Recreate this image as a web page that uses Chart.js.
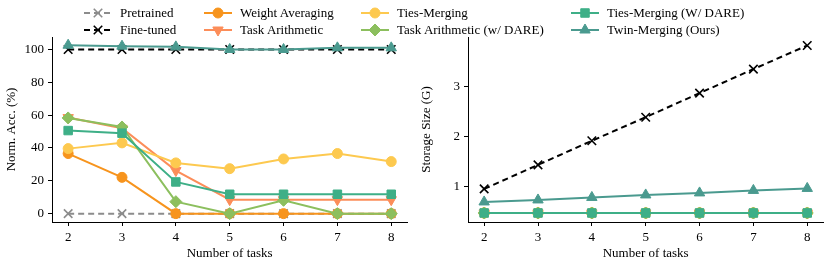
<!DOCTYPE html>
<html><head><meta charset="utf-8">
<script src="https://cdn.jsdelivr.net/npm/chart.js@4.4.1/dist/chart.umd.min.js"></script>
<style>
body{margin:0;width:831px;height:264px;background:#fff;position:relative;overflow:hidden;font-family:"Liberation Serif","Times New Roman",serif;}
canvas.c{position:absolute;top:0}
.li{position:absolute;font-size:13px;line-height:15px;white-space:nowrap;color:#000}
.lh{position:absolute}
</style></head><body>
<canvas id="left" class="c" width="415" height="264" style="left:0;width:415px;height:264px"></canvas>
<canvas id="right" class="c" width="416" height="264" style="left:415px;width:416px;height:264px"></canvas>
<div id="legend"></div>
<script>
// ---- data ----
const tasks = [2, 3, 4, 5, 6, 7, 8];
const taskTicks = [2, 3, 4, 5, 6, 7, 8];
const accTicks = [0, 20, 40, 60, 80, 100];
const sizeTicks = [1, 2, 3];
const seriesNames = ["Pretrained", "Fine-tuned", "Weight Averaging", "Task Arithmetic",
  "Ties-Merging", "Task Arithmetic (w/ DARE)", "Ties-Merging (W/ DARE)", "Twin-Merging (Ours)"];

// Normalized accuracy (%)
const accPretrained   = [0, 0, 0, 0, 0, 0, 0];
const accFinetuned    = [100, 100, 100, 100, 100, 100, 100];
const accWeightAvg    = [36.6, 22.1, 0, 0, 0, 0, 0];
const accTaskArith    = [58.5, 52.0, 26.2, 8.5, 8.5, 8.5, 8.5];
const accTies         = [39.6, 43.1, 30.9, 27.4, 33.3, 36.6, 31.7];
const accTaskArithDare= [58.3, 52.8, 7.3, 0, 8.1, 0, 0];
const accTiesDare     = [50.6, 49.0, 19.3, 11.8, 11.8, 11.8, 11.8];
const accTwin         = [102.6, 102.0, 101.6, 100.0, 100.0, 101.0, 101.0];

// Storage size (G)
const sizePretrained   = [0.48, 0.48, 0.48, 0.48, 0.48, 0.48, 0.48];
const sizeFinetuned    = [0.96, 1.44, 1.92, 2.39, 2.87, 3.35, 3.82];
const sizeWeightAvg    = [0.48, 0.48, 0.48, 0.48, 0.48, 0.48, 0.48];
const sizeTaskArith    = [0.48, 0.48, 0.48, 0.48, 0.48, 0.48, 0.48];
const sizeTies         = [0.48, 0.48, 0.48, 0.48, 0.48, 0.48, 0.48];
const sizeTaskArithDare= [0.48, 0.48, 0.48, 0.48, 0.48, 0.48, 0.48];
const sizeTiesDare     = [0.48, 0.48, 0.48, 0.48, 0.48, 0.48, 0.48];
const sizeTwin         = [0.70, 0.74, 0.79, 0.84, 0.88, 0.93, 0.97];

// ---- styles ----
const styles = [
  {color:'#8c8c8c', point:'crossRot', rot:0, r:6, dash:[6,4]},
  {color:'#000000', point:'crossRot', rot:0, r:6, dash:[6,4]},
  {color:'#f7941d', point:'circle', rot:0, r:5, dash:[]},
  {color:'#fc8d59', point:'triangle', rot:180, r:6, dash:[]},
  {color:'#fdc94f', point:'circle', rot:0, r:5, dash:[]},
  {color:'#8cbf5e', point:'rectRot', rot:0, r:6, dash:[]},
  {color:'#3eaf87', point:'rect', rot:0, r:6, dash:[]},
  {color:'#4a9a8f', point:'triangle', rot:0, r:6, dash:[]},
];

Chart.defaults.font.family = "'Liberation Serif','Times New Roman',serif";
Chart.defaults.font.size = 13;
Chart.defaults.color = '#000';

function makeDatasets(series){
  return series.map((vals,i)=>{
    const s = styles[i];
    return {
      label: seriesNames[i],
      data: tasks.map((t,j)=>({x:t, y:vals[j]})),
      borderColor: s.color,
      backgroundColor: s.color,
      pointBackgroundColor: s.color,
      pointBorderColor: s.color,
      pointStyle: s.point,
      pointRotation: s.rot,
      pointRadius: s.r,
      pointBorderWidth: s.point==='crossRot' ? 1.6 : 1,
      borderWidth: 2,
      borderDash: s.dash,
      tension: 0,
      clip: false,
      order: series.length - 1 - i,
    };
  });
}

function axisOpts(ticksArr, min, max, title, fixed, isY, titlePad){
  return {
    type:'linear', min:min, max:max,
    afterBuildTicks: sc => { sc.ticks = ticksArr.map(v=>({value:v})); },
    afterFit: sc => { if(isY) sc.width = fixed; else sc.height = fixed; },
    grid:{display:true, drawOnChartArea:false, drawTicks:true, tickLength:4, color:'#000', lineWidth:1},
    border:{display:true, color:'#000', width:1},
    ticks:{padding:4, color:'#000', font:{size:13}, autoSkip:false, maxRotation:0, callback:v=>String(v)},
    title:{display:true, text:title, color:'#000', font:{size:13}, padding:titlePad},
  };
}

function makeChart(id, series, yTicks, ymin, ymax, yTitle, yWidth){
  return new Chart(document.getElementById(id), {
    type:'line',
    data:{datasets: makeDatasets(series)},
    options:{
      responsive:false, animation:false,
      layout:{padding:{top:37, right:6, left:0, bottom:0}},
      plugins:{legend:{display:false}, tooltip:{enabled:false}},
      scales:{
        x: axisOpts(taskTicks, 1.7, 8.3, 'Number of tasks', 42, false, {top:0,bottom:3}),
        y: axisOpts(yTicks, ymin, ymax, yTitle, yWidth, true, {top:4,bottom:0}),
      }
    }
  });
}

makeChart('left', [accPretrained, accFinetuned, accWeightAvg, accTaskArith, accTies, accTaskArithDare, accTiesDare, accTwin],
  accTicks, -5.1, 107.6, 'Norm. Acc. (%)', 52);
makeChart('right', [sizePretrained, sizeFinetuned, sizeWeightAvg, sizeTaskArith, sizeTies, sizeTaskArithDare, sizeTiesDare, sizeTwin],
  sizeTicks, 0.30, 3.99, 'Storage Size (G)', 53);

// ---- legend (4 columns, column-major) ----
const colX = [83, 203, 360, 570];
const rowY = [12.5, 29.5];
const leg = document.getElementById('legend');
seriesNames.forEach((name,i)=>{
  const col = Math.floor(i/2), row = i%2;
  const s = styles[i];
  const cv = document.createElement('canvas');
  cv.width = 30; cv.height = 16; cv.className='lh';
  cv.style.left = colX[col]+'px'; cv.style.top = (rowY[row]-8)+'px';
  leg.appendChild(cv);
  const ctx = cv.getContext('2d');
  ctx.strokeStyle = s.color; ctx.lineWidth = 2; ctx.setLineDash(s.dash);
  ctx.beginPath(); ctx.moveTo(1,8); ctx.lineTo(29,8); ctx.stroke();
  ctx.setLineDash([]);
  ctx.fillStyle = s.color; ctx.strokeStyle = s.color;
  ctx.lineWidth = s.point==='crossRot' ? 1.6 : 1;
  Chart.helpers.drawPoint(ctx, {pointStyle:s.point, radius:s.r, rotation:s.rot, borderWidth:ctx.lineWidth}, 15, 8);
  const d = document.createElement('div');
  d.className='li'; d.textContent = name;
  d.style.left = (colX[col]+37)+'px'; d.style.top = (rowY[row]-8)+'px';
  leg.appendChild(d);
});
</script>
</body></html>
